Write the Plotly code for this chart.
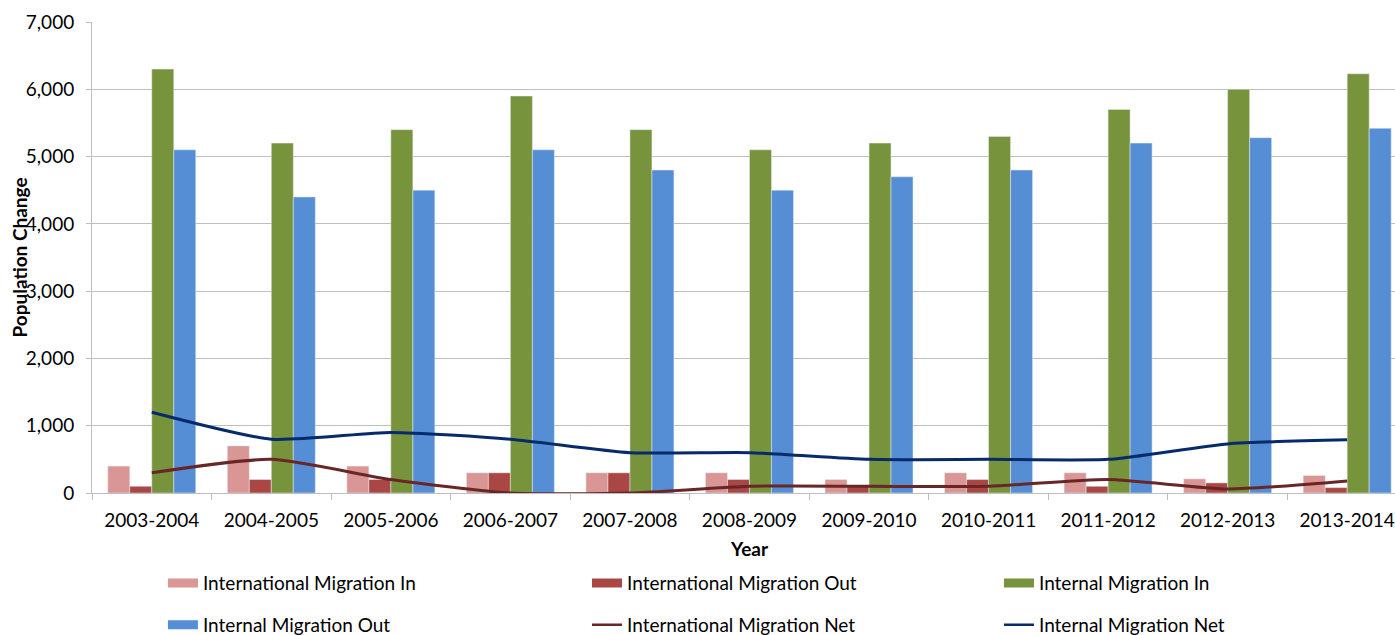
import plotly.graph_objects as go

years = ["2003-2004", "2004-2005", "2005-2006", "2006-2007", "2007-2008", "2008-2009",
         "2009-2010", "2010-2011", "2011-2012", "2012-2013", "2013-2014"]

intl_in = [400, 700, 400, 300, 300, 300, 200, 300, 300, 210, 260]
intl_out = [100, 200, 200, 300, 300, 200, 100, 200, 100, 150, 80]
internal_in = [6300, 5200, 5400, 5900, 5400, 5100, 5200, 5300, 5700, 6000, 6230]
internal_out = [5100, 4400, 4500, 5100, 4800, 4500, 4700, 4800, 5200, 5280, 5420]
intl_net = [300, 500, 200, 0, 0, 100, 100, 100, 200, 60, 180]
internal_net = [1200, 800, 900, 800, 600, 600, 500, 500, 500, 730, 790]

FONT = "Lato"
TXT = "#000000"
GRID = "#BEBEBE"

C_IIN = "#D99694"
C_IOUT = "#AA4643"
C_NIN = "#77933C"
C_NOUT = "#558ED5"
C_INET = "#682627"
C_NNET = "#062A6A"

fig = go.Figure()

bars = [
    ("International Migration In", intl_in, C_IIN, "legend"),
    ("International Migration Out", intl_out, C_IOUT, "legend2"),
    ("Internal Migration In", internal_in, C_NIN, "legend3"),
    ("Internal Migration Out", internal_out, C_NOUT, "legend"),
]
for name, vals, col, _ in bars:
    fig.add_trace(go.Bar(x=years, y=vals, name=name, marker_color=col,
                         legendgroup=name, showlegend=False))

lines = [
    ("International Migration Net", intl_net, C_INET, "legend2"),
    ("Internal Migration Net", internal_net, C_NNET, "legend3"),
]
for name, vals, col, _ in lines:
    fig.add_trace(go.Scatter(x=years, y=vals, name=name, mode="lines",
                             legendgroup=name, showlegend=False,
                             line=dict(color=col, width=3, shape="spline", smoothing=0.6)))

# legend keys: wide flat swatches for the bar series, thin strokes for the lines
for name, _, col, leg in bars:
    fig.add_trace(go.Scatter(x=[None], y=[None], mode="lines", name=name, legendgroup=name,
                             legend=leg, line=dict(color=col, width=9)))
for name, _, col, leg in lines:
    fig.add_trace(go.Scatter(x=[None], y=[None], mode="lines", name=name, legendgroup=name,
                             legend=leg, line=dict(color=col, width=2.5)))

legend_style = dict(orientation="v", xref="container", yref="container",
                    y=0.1115, xanchor="left", yanchor="top",
                    font=dict(family=FONT, size=19, color=TXT),
                    itemwidth=30, tracegroupgap=14, traceorder="grouped",
                    bgcolor="rgba(0,0,0,0)")

fig.update_layout(
    width=1395, height=635,
    margin=dict(l=92, r=0, t=22, b=142, autoexpand=False),
    paper_bgcolor="white", plot_bgcolor="white",
    font=dict(family=FONT, size=19, color=TXT),
    barmode="group", bargap=0.264, bargroupgap=0,
    showlegend=True,
    legend=dict(x=0.1168, **legend_style),
    legend2=dict(x=0.4208, **legend_style),
    legend3=dict(x=0.7161, **legend_style),
    xaxis=dict(type="category", range=[-0.5, 10.4], showgrid=False,
               showline=True, linecolor=GRID, linewidth=1,
               ticks="outside", tickson="boundaries", ticklen=6, tickcolor=GRID,
               tickfont=dict(size=19), tickangle=0, ticklabelstandoff=10,
               fixedrange=True),
    yaxis=dict(range=[0, 7000], dtick=1000, tickformat=",", showgrid=True,
               gridcolor=GRID, gridwidth=1, zeroline=False,
               showline=True, linecolor=GRID, linewidth=1,
               ticks="outside", ticklen=5, tickcolor=GRID,
               tickfont=dict(size=19), ticklabelstandoff=8),
    annotations=[
        dict(text="<b>Population Change</b>", xref="paper", yref="paper",
             x=0, y=0.5, xanchor="center", yanchor="middle", xshift=-73,
             textangle=-90, showarrow=False, font=dict(size=19, family=FONT, color=TXT)),
        dict(text="<b>Year</b>", xref="paper", yref="paper",
             x=0.5, y=0, xanchor="center", yanchor="middle", xshift=6, yshift=-55,
             showarrow=False, font=dict(size=19, family=FONT, color=TXT)),
    ],
)

fig.write_html("out.html")
